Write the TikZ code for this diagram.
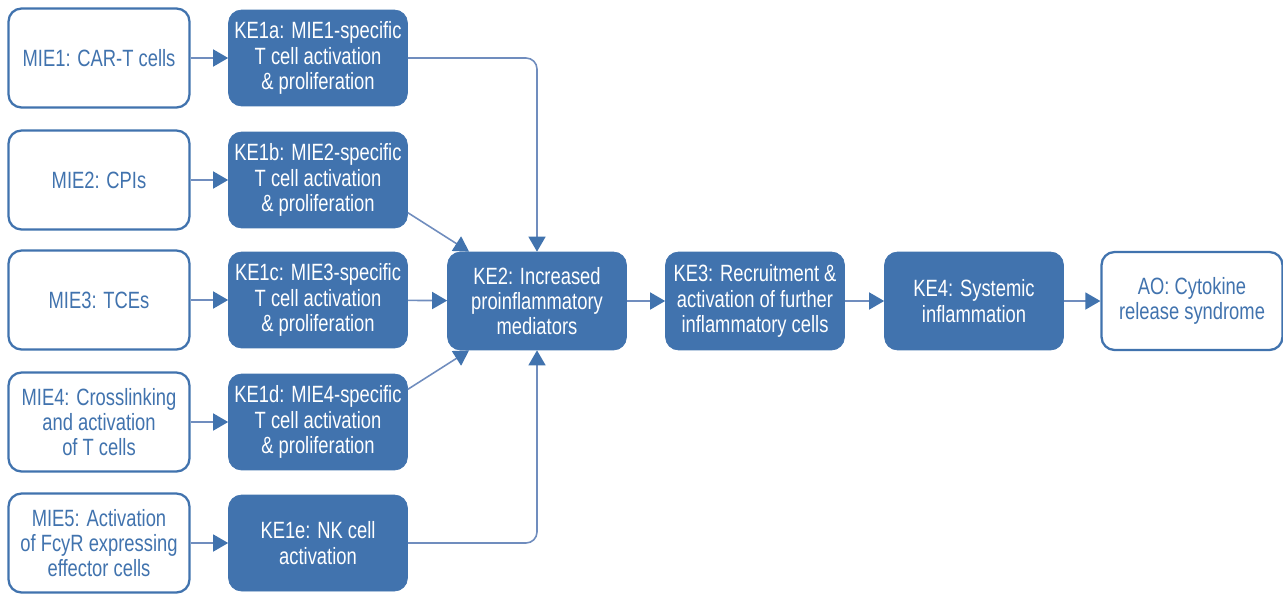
\documentclass[tikz,border=0pt]{standalone}
\usepackage{fontspec}
\setmainfont{Liberation Sans}[FakeStretch=0.78]
\usetikzlibrary{arrows.meta,positioning}
\definecolor{keblue}{RGB}{65,115,174}
\definecolor{linkblue}{RGB}{112,141,190}
\tikzset{
  mie/.style={draw=keblue, line width=1.3pt, fill=white, rounded corners=0.26cm,
    text=keblue, align=center, minimum width=3.62cm, minimum height=1.98cm, inner sep=1pt},
  ke/.style={draw=keblue, fill=keblue, rounded corners=0.26cm, text=white,
    align=center, minimum width=3.58cm, minimum height=1.92cm, inner sep=1pt},
  link/.style={draw=linkblue, line width=0.9pt, rounded corners=0.22cm,
    -{Triangle[width=0.34cm, length=0.3cm, color=keblue]}}
}
\begin{document}
\begin{tikzpicture}[x=0.02cm, y=-0.02cm, font=\fontsize{13.4pt}{14.4pt}\selectfont]
    \useasboundingbox (0,0) rectangle (1283,595);
    % Molecular initiating events
    \node[mie] (mie1) at (99,58)  {MIE1: CAR-T cells};
    \node[mie] (mie2) at (99,180) {MIE2: CPIs};
    \node[mie] (mie3) at (99,300) {MIE3: TCEs};
    \node[mie] (mie4) at (99,422) {MIE4: Crosslinking\\and activation\\of T cells};
    \node[mie] (mie5) at (99,543) {MIE5: Activation\\of FcyR expressing\\effector cells};

    % First key events
    \node[ke] (ke1a) at (318,58)  {KE1a: MIE1-specific\\T cell activation\\\& proliferation};
    \node[ke] (ke1b) at (318,180) {KE1b: MIE2-specific\\T cell activation\\\& proliferation};
    \node[ke] (ke1c) at (318,300) {KE1c: MIE3-specific\\T cell activation\\\& proliferation};
    \node[ke] (ke1d) at (318,422) {KE1d: MIE4-specific\\T cell activation\\\& proliferation};
    \node[ke] (ke1e) at (318,543) {KE1e: NK cell\\activation};

    % Downstream chain
    \node[ke, minimum height=1.96cm] (ke2) at (537,301) {KE2: Increased\\proinflammatory\\mediators};
    \node[ke, minimum height=1.96cm] (ke3) at (755,301) {KE3: Recruitment \&\\activation of further\\inflammatory cells};
    \node[ke, minimum height=1.96cm] (ke4) at (974,301) {KE4: Systemic\\inflammation};
    \node[mie, minimum height=1.96cm] (ao) at (1192,301) {AO: Cytokine\\release syndrome};

    % Connectors
    \foreach \i in {1,...,5} {
        \draw[link] (mie\i) -- (ke1\ifcase\i\or a\or b\or c\or d\or e\fi);
    }
    \draw[link] (ke1a.east) -| (ke2.north);
    \draw[link] (ke1e.east) -| (ke2.south);
    \draw[link] (ke1b.340) -- (ke2.144);
    \draw[link] (ke1d.20) -- (ke2.216);
    \draw[link] (ke1c) -- (ke2);
    \draw[link] (ke2) -- (ke3);
    \draw[link] (ke3) -- (ke4);
    \draw[link] (ke4) -- (ao);
\end{tikzpicture}
\end{document}
